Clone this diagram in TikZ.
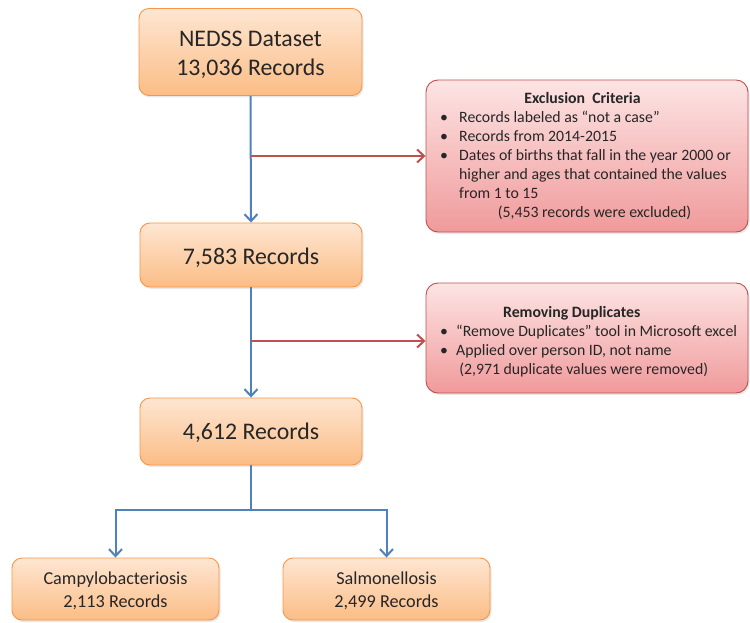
\documentclass[tikz,border=0pt]{standalone}
\usepackage{fontspec}
\setmainfont{Carlito}
\usetikzlibrary{arrows.meta,shadows,calc}
\definecolor{obord}{HTML}{F79646}
\definecolor{otop}{HTML}{FEE6D2}
\definecolor{obot}{HTML}{FBBD86}
\definecolor{rbord}{HTML}{C0504D}
\definecolor{rtop}{HTML}{FDE4E4}
\definecolor{rbot}{HTML}{F09A9B}
\definecolor{ablue}{HTML}{4F81BD}
\definecolor{ared}{HTML}{C0504D}
\definecolor{txt}{HTML}{262626}
\tikzset{
  obox/.style={draw=obord, line width=0.9pt, rounded corners=10pt, top color=otop, bottom color=obot,
    inner sep=0pt,
    drop shadow={opacity=0.18, shadow xshift=1.5pt, shadow yshift=-2pt}},
  bigtxt/.style={text=txt, align=center, font=\fontsize{23.8}{29}\selectfont},
  smalltxt/.style={text=txt, align=center, font=\fontsize{18.2}{23}\selectfont},
  rbox/.style={draw=rbord, line width=0.9pt, rounded corners=12pt, top color=rtop, bottom color=rbot,
    inner sep=0pt, drop shadow={opacity=0.18, shadow xshift=1.5pt, shadow yshift=-2pt}},
  barrow/.style={draw=ablue, line width=2pt, -{Straight Barb[length=7pt,width=13pt,line width=2pt]}},
  bline/.style={draw=ablue, line width=2pt},
  rarrow/.style={draw=ared, line width=2pt, -{Straight Barb[length=7pt,width=13pt,line width=2pt]}},
  listtext/.style={text=txt, inner sep=0pt, align=left}
}
\begin{document}
\begin{tikzpicture}[x=1pt,y=-1pt]
\useasboundingbox (0,0) rectangle (750,623);
% main boxes
\node[obox, minimum width=223pt, minimum height=87pt,
  label={[bigtxt, yshift=-3pt]center:NEDSS Dataset\\13,036 Records}] (n1) at (250.5,52) {};
\node[obox, minimum width=222pt, minimum height=64pt,
  label={[bigtxt, yshift=-3pt]center:7,583 Records}] (n2) at (251,255) {};
\node[obox, minimum width=222pt, minimum height=67pt,
  label={[bigtxt, yshift=-1.5pt]center:4,612 Records}] (n3) at (251,431.5) {};
\node[obox, minimum width=207pt, minimum height=62pt,
  label={[smalltxt, yshift=-2pt]center:Campylobacteriosis\\2,113 Records}] (n4) at (115.5,589) {};
\node[obox, minimum width=207pt, minimum height=62pt,
  label={[smalltxt, yshift=-2pt]center:Salmonellosis\\2,499 Records}] (n5) at (386.5,589) {};
% side boxes
\node[rbox, minimum width=322pt, minimum height=152pt] (e1) at (587,156) {};
\node[rbox, minimum width=322pt, minimum height=110pt] (e2) at (587,338) {};
\node[listtext, anchor=north west, font=\fontsize{15.8}{19}\selectfont] (t1) at (440,90) {%
\begin{tabular}{@{}p{19pt}@{}l@{}}
\multicolumn{2}{@{}c@{}}{\hspace{-6pt}\textbf{Exclusion\ \ Criteria}}\\
\textbullet & Records labeled as “not a case”\\
\textbullet & Records from 2014-2015\\
\textbullet & Dates of births that fall in the year 2000 or\\
 & higher and ages that contained the values\\
 & from 1 to 15\\
\multicolumn{2}{@{}c@{}}{\hspace{18pt}(5,453 records were excluded)}
\end{tabular}};
\node[listtext, anchor=north west, font=\fontsize{15.8}{19}\selectfont] (t2) at (440,304) {%
\begin{tabular}{@{}p{16pt}@{}l@{}}
\multicolumn{2}{@{}c@{}}{\hspace{-34pt}\textbf{Removing Duplicates}}\\
\textbullet & “Remove Duplicates” tool in Microsoft excel\\
\textbullet & Applied over person ID, not name\\
\multicolumn{2}{@{}c@{}}{\hspace{-10pt}(2,971 duplicate values were removed)}
\end{tabular}};
% connectors
\draw[barrow] (n1.south) -- (n2.north);
\draw[rarrow] (n1.south |- e1.west) -- (e1.west);
\draw[barrow] (n2.south) -- (n3.north);
\coordinate (r2) at (n2.south |- 0,341);
\draw[rarrow] (r2) -- (r2 -| e2.west);
\coordinate (split) at (251,510);
\draw[bline] (n3.south) -- (split);
\draw[barrow] (split) -| (n4.north);
\draw[barrow] (split) -| (n5.north);
\end{tikzpicture}
\end{document}
